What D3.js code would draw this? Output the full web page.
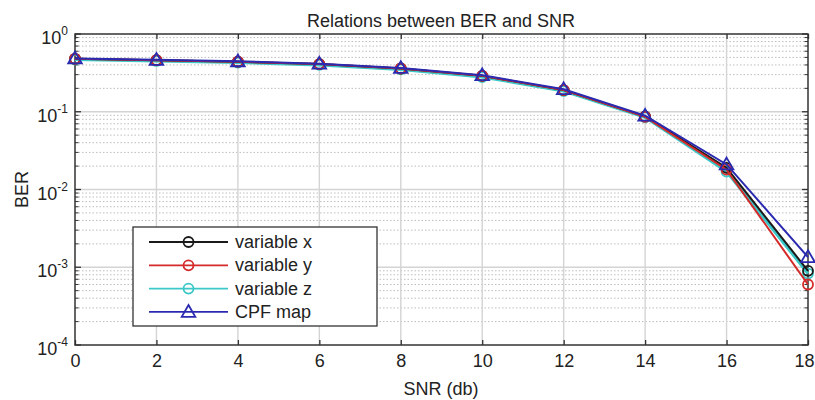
<!DOCTYPE html>
<html>
<head>
<meta charset="utf-8">
<script src="https://cdn.jsdelivr.net/npm/d3@7/dist/d3.min.js"></script>
<style>
  body { margin: 0; background: #fff; }
  svg { display: block; font-family: "Liberation Sans", Arial, sans-serif; }
</style>
</head>
<body>
<svg id="chart" width="815" height="400"></svg>
<script>
// SNR sample points (dB)
const snr = [0, 2, 4, 6, 8, 10, 12, 14, 16, 18];
// BER curves
const berX = [0.48, 0.46, 0.44, 0.41, 0.36, 0.29, 0.19, 0.087, 0.019, 0.00090];
const berY = [0.48, 0.46, 0.44, 0.41, 0.36, 0.29, 0.19, 0.086, 0.018, 0.00060];
const berZ = [0.47, 0.45, 0.43, 0.40, 0.35, 0.28, 0.185, 0.085, 0.017, 0.00083];
const berCPF = [0.485, 0.465, 0.445, 0.415, 0.365, 0.295, 0.195, 0.089, 0.021, 0.00135];
const xTicks = [0, 2, 4, 6, 8, 10, 12, 14, 16, 18];
const yExponents = [0, -1, -2, -3, -4];
const seriesNames = ["variable x", "variable y", "variable z", "CPF map"];
const seriesColors = ["#1a1a1a", "#d42a2a", "#3cc8c8", "#2a2ab0"];
const seriesMarkers = ["circle", "circle", "circle", "triangle"];

const svg = d3.select("#chart");
const m = { left: 75, right: 7, top: 34, bottom: 55 };
const W = 815, H = 400;
const x = d3.scaleLinear().domain([0, 18]).range([m.left, W - m.right]);
const y = d3.scaleLog().domain([1e-4, 1]).range([H - m.bottom, m.top]);
const FS = 18;

const g = svg.append("g");

// minor grid (dotted) for log decades
const minorVals = [];
for (let e = -4; e < 0; e++) for (let k = 2; k <= 9; k++) minorVals.push(k * Math.pow(10, e));
g.selectAll(".minor").data(minorVals).enter().append("line")
  .attr("x1", x(0)).attr("x2", x(18))
  .attr("y1", d => y(d)).attr("y2", d => y(d))
  .attr("stroke", "#bdbdbd").attr("stroke-width", 1).attr("stroke-dasharray", "1.5,2");

// major grid
g.selectAll(".vgrid").data(xTicks.slice(1, -1)).enter().append("line")
  .attr("x1", d => x(d)).attr("x2", d => x(d))
  .attr("y1", y(1)).attr("y2", y(1e-4))
  .attr("stroke", "#d4d4d4").attr("stroke-width", 1.4);
g.selectAll(".hgrid").data(yExponents.slice(1, -1)).enter().append("line")
  .attr("x1", x(0)).attr("x2", x(18))
  .attr("y1", d => y(Math.pow(10, d))).attr("y2", d => y(Math.pow(10, d)))
  .attr("stroke", "#d4d4d4").attr("stroke-width", 1.4);

// axes with inward ticks
const xAxisB = d3.axisBottom(x).tickValues(xTicks).tickSizeInner(-5).tickSizeOuter(0).tickPadding(9);
const gx = svg.append("g").attr("transform", `translate(0,${y(1e-4)})`).call(xAxisB);
gx.select(".domain").remove();
gx.selectAll("text").attr("font-size", FS).attr("fill", "#222");
// keep the last tick label inside the canvas
gx.selectAll(".tick").filter(d => d === 18).select("text")
  .attr("text-anchor", "end").attr("x", 6);
gx.selectAll("line").attr("stroke", "#333").attr("stroke-width", 1.3);

const gxt = svg.append("g").attr("transform", `translate(0,${y(1)})`)
  .call(d3.axisTop(x).tickValues(xTicks).tickSizeInner(-5).tickSizeOuter(0).tickFormat(""));
gxt.select(".domain").remove();
gxt.selectAll("line").attr("stroke", "#333").attr("stroke-width", 1.3);

// y ticks: major and minor, both sides
const majorVals = yExponents.map(e => Math.pow(10, e));
[x(0), x(18)].forEach((px, i) => {
  const dir = i === 0 ? 1 : -1;
  svg.append("g").selectAll("line").data(majorVals).enter().append("line")
    .attr("x1", px).attr("x2", px + dir * 6)
    .attr("y1", d => y(d)).attr("y2", d => y(d))
    .attr("stroke", "#333").attr("stroke-width", 1.3);
  svg.append("g").selectAll("line").data(minorVals).enter().append("line")
    .attr("x1", px).attr("x2", px + dir * 3.5)
    .attr("y1", d => y(d)).attr("y2", d => y(d))
    .attr("stroke", "#333").attr("stroke-width", 1);
});

// y tick labels 10^n
const yl = svg.append("g").selectAll("text").data(yExponents).enter().append("text")
  .attr("x", x(0) - 7).attr("y", d => y(Math.pow(10, d)) + 10)
  .attr("text-anchor", "end").attr("font-size", FS).attr("fill", "#222");
yl.append("tspan").text("10");
yl.append("tspan").attr("dy", -9).attr("font-size", 12).text(d => d === 0 ? "0" : "-" + (-d));

// frame
svg.append("rect").attr("x", x(0)).attr("y", y(1))
  .attr("width", x(18) - x(0)).attr("height", y(1e-4) - y(1))
  .attr("fill", "none").attr("stroke", "#333").attr("stroke-width", 1.5);

// series
const allSeries = [berX, berY, berZ, berCPF];
const line = d3.line().x((d, i) => x(snr[i])).y(d => y(d));
const tri = d3.symbol().type(d3.symbolTriangle).size(80);

function drawMarker(sel, type, color) {
  if (type === "circle") {
    sel.append("circle").attr("r", 5).attr("fill", "none")
      .attr("stroke", color).attr("stroke-width", 1.8);
  } else {
    sel.append("path").attr("d", tri).attr("fill", "none")
      .attr("stroke", color).attr("stroke-width", 1.8);
  }
}

const order = [2, 0, 1, 3];
order.forEach(si => {
  const vals = allSeries[si];
  const col = seriesColors[si];
  svg.append("path").datum(vals).attr("d", line)
    .attr("fill", "none").attr("stroke", col).attr("stroke-width", si === 2 ? 3 : 2);
  vals.forEach((v, i) => {
    const mg = svg.append("g").attr("transform", `translate(${x(snr[i])},${y(v) + (seriesMarkers[si] === "triangle" ? 1 : 0)})`);
    drawMarker(mg, seriesMarkers[si], col);
  });
});

// legend
const lg = svg.append("g").attr("transform", "translate(133,227)");
lg.append("rect").attr("width", 244).attr("height", 99)
  .attr("fill", "#fff").attr("stroke", "#333").attr("stroke-width", 1.3);
seriesNames.forEach((name, i) => {
  const cy = 15 + i * 23.3;
  lg.append("line").attr("x1", 16).attr("x2", 95).attr("y1", cy).attr("y2", cy)
    .attr("stroke", seriesColors[i]).attr("stroke-width", 1.8);
  const mg = lg.append("g").attr("transform", `translate(55.5,${cy + (seriesMarkers[i] === "triangle" ? 1 : 0)})`);
  drawMarker(mg, seriesMarkers[i], seriesColors[i]);
  lg.append("text").attr("x", 102).attr("y", cy + 6).attr("font-size", FS).attr("fill", "#222").text(name);
});

// title and axis labels
svg.append("text").attr("x", 441).attr("y", 27).attr("text-anchor", "middle")
  .attr("font-size", FS).attr("fill", "#222").text("Relations between BER and SNR");
svg.append("text").attr("x", 441).attr("y", 395).attr("text-anchor", "middle")
  .attr("font-size", FS).attr("fill", "#222").text("SNR (db)");
svg.append("text").attr("transform", `translate(28,${(y(1) + y(1e-4)) / 2}) rotate(-90)`)
  .attr("text-anchor", "middle").attr("font-size", FS).attr("fill", "#222").text("BER");
</script>
</body>
</html>
